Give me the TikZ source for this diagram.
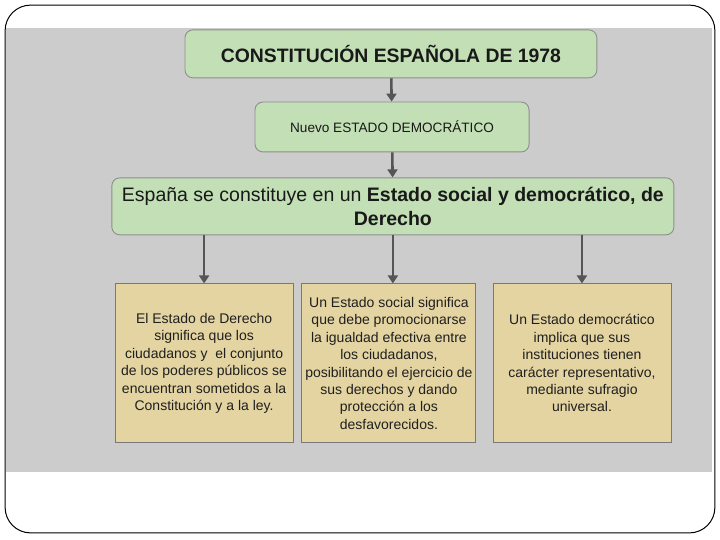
\documentclass[tikz,border=0pt]{standalone}
\usepackage{fontspec}
\setmainfont{Liberation Sans}
\usetikzlibrary{arrows.meta}

\definecolor{fondo}{HTML}{CCCCCC}
\definecolor{verde}{HTML}{C2DFB5}
\definecolor{beige}{HTML}{E4D4A2}
\definecolor{borde}{HTML}{8E8E8E}
\definecolor{flecha}{HTML}{555555}

\tikzset{
  caja/.style={draw=borde, fill=verde, rounded corners=0.28cm, line width=0.9pt,
    align=center, text=black!90, inner sep=0pt},
  nota/.style={draw=borde!85!black, fill=beige, line width=0.9pt, align=center,
    text=black!88, minimum height=5.61cm, inner sep=0pt,
    font=\fontsize{14bp}{17.4bp}\selectfont},
  flechita/.style={draw=flecha, line width=2.6pt, -{Triangle[width=10pt,length=8pt]}}
}

\begin{document}
\begin{tikzpicture}
    \useasboundingbox (0cm,0cm) rectangle (25.4cm,19.05cm);
    \draw[line width=1pt, rounded corners=0.9cm] (0.18cm,0.25cm) rectangle (25.22cm,18.87cm);
    \fill[fondo] (0.21cm,2.40cm) rectangle (25.12cm,18.06cm);

    \node[caja, minimum width=14.53cm, minimum height=1.69cm,
      font=\bfseries\fontsize{19.4bp}{23bp}\selectfont] (titulo) at (13.79cm,17.15cm)
      {CONSTITUCIÓN ESPAÑOLA DE 1978};
    \node[caja, minimum width=9.67cm, minimum height=1.76cm,
      font=\fontsize{13.6bp}{16bp}\selectfont] (nuevo) at (13.83cm,14.57cm)
      {Nuevo ESTADO DEMOCRÁTICO};
    \node[caja, minimum width=19.83cm, minimum height=2.01cm,
      font=\fontsize{19.5bp}{24bp}\selectfont] (espana) at (13.86cm,11.77cm)
      {España se constituye en un \textbf{Estado social y democrático, de}\\
       \textbf{Derecho}};

    \node[nota, minimum width=6.28cm] (derecho) at (7.20cm,6.23cm)
      {El Estado de Derecho\\ significa que los\\ ciudadanos y\ \ el conjunto\\
       de los poderes públicos se\\ encuentran sometidos a la\\ Constitución y a la ley.};
    \node[nota, minimum width=6.14cm] (social) at (13.72cm,6.23cm)
      {Un Estado social significa\\ que debe promocionarse\\ la igualdad efectiva entre\\
       los ciudadanos,\\ posibilitando el ejercicio de\\ sus derechos y dando\\
       protección a los\\ desfavorecidos.};
    \node[nota, minimum width=6.28cm] (democratico) at (20.53cm,6.23cm)
      {Un Estado democrático\\ implica que sus\\ instituciones tienen\\
       carácter representativo,\\ mediante sufragio\\ universal.};

    \draw[flechita] (titulo) -- (nuevo);
    \draw[flechita] (nuevo) -- (espana);
    \foreach \destino in {derecho,democratico}
      \draw[flechita] (espana.south -| \destino.north) -- (\destino.north);
    \draw[flechita] (espana.south) -- (espana.south |- social.north);
\end{tikzpicture}
\end{document}
